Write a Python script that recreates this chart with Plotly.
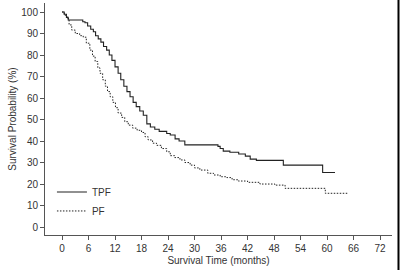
import plotly.graph_objects as go

# TPF (solid) Kaplan-Meier step points: month, survival %
tpf_t = [0, 0.5, 1.0, 1.4, 4.7, 5.2, 5.8, 6.5, 7.1, 7.6, 8.2, 8.8, 9.4, 10.1, 10.7, 11.3, 12.0,
         12.7, 13.3, 14.0, 14.7, 15.4, 16.1, 16.8, 17.6, 18.4, 19.2, 20.0, 21.0, 22.0, 23.7,
         24.5, 25.6, 26.5, 27.8, 35.3, 35.8, 36.5, 38.0, 40.0, 41.5, 42.6, 44.0, 50.1, 59.0, 61.8]
tpf_s = [100, 99, 97.5, 96.3, 95.5, 95, 93.5, 92, 90.8, 89, 87.5, 86, 84, 82.3, 80, 77.5, 74.5,
         71.5, 68.5, 65.5, 63, 60.6, 58, 56, 54, 52, 48, 46.5, 45.5, 44.5, 43.5,
         42.8, 41, 40, 38.2, 37.5, 36.5, 35.3, 34.8, 34, 33, 31.6, 31, 28.8, 25.4, 25.4]

# PF (dotted)
pf_t = [0, 0.5, 1.1, 1.6, 2.2, 3.0, 4.0, 4.8, 5.5, 6.3, 6.9, 7.5, 8.1, 8.6, 9.2, 9.8, 10.3, 10.9,
        11.5, 12.1, 12.7, 13.5, 14.2, 15.0, 16.0, 17.0, 18.0, 18.8, 19.5, 20.5, 21.4, 22.5, 23.7,
        24.5, 25.5, 26.7, 27.8, 29.0, 30.0, 31.2, 33.0, 34.3, 35.8, 37.3, 38.5, 39.9, 42.0, 44.8,
        48.2, 50.5, 59.6, 64.8]
pf_s = [100, 98.5, 97, 94, 91.6, 90, 89, 88.3, 85.5, 82.3, 79.5, 77, 74, 71.5, 68.5, 65.5, 63, 60.6,
        58, 55.5, 53, 51, 49, 47.4, 46, 45, 44, 42, 40.5, 39, 38, 36.5, 35,
        33.2, 32.3, 31.2, 30, 28.8, 27.5, 26.5, 25, 24.2, 23.4, 23, 22, 21.4, 20.8, 20,
        19.5, 18, 15.7, 15.7]

x_ticks = [0, 6, 12, 18, 24, 30, 36, 42, 48, 54, 60, 66, 72]
y_ticks = [0, 10, 20, 30, 40, 50, 60, 70, 80, 90, 100]

font_fam = "Liberation Sans, Arial, sans-serif"
line_col = "#222222"

fig = go.Figure()
fig.add_trace(go.Scatter(x=tpf_t, y=tpf_s, mode="lines", name="TPF", line_shape="hv",
                         line=dict(color=line_col, width=1.1)))
fig.add_trace(go.Scatter(x=pf_t, y=pf_s, mode="lines", name="PF", line_shape="hv",
                         line=dict(color=line_col, width=1, dash="1.5px,1.5px")))

fig.update_layout(
    width=400, height=270,
    margin=dict(l=45, r=8, t=3, b=35),
    paper_bgcolor="white", plot_bgcolor="white",
    font=dict(family=font_fam, size=10, color="#333333"),
    showlegend=True,
    legend=dict(x=0.02, y=0.248, xanchor="left", yanchor="top",
                bgcolor="rgba(0,0,0,0)", font=dict(size=10, color="#333333"),
                tracegroupgap=0),
    xaxis=dict(range=[-3.85, 74.7], tickvals=x_ticks, ticktext=[str(v) for v in x_ticks],
               showline=True, linecolor="#555555", linewidth=1, ticks="outside",
               ticklen=4, tickcolor="#555555", showgrid=False, zeroline=False,
               title=dict(text="Survival Time (months)", standoff=3, font=dict(size=10))),
    yaxis=dict(range=[-3.7, 104.2], tickvals=y_ticks, ticktext=[str(v) for v in y_ticks],
               showline=True, linecolor="#555555", linewidth=1, ticks="outside",
               ticklen=4, tickcolor="#555555", showgrid=False, zeroline=False,
               title=dict(text="Survival Probability (%)", standoff=2, font=dict(size=10))),
    shapes=[dict(type="line", xref="paper", yref="paper", x0=1.0187, x1=1.0187,
                 y0=-0.16, y1=1.02, line=dict(color="black", width=2))],
)

fig.write_html("out.html")
